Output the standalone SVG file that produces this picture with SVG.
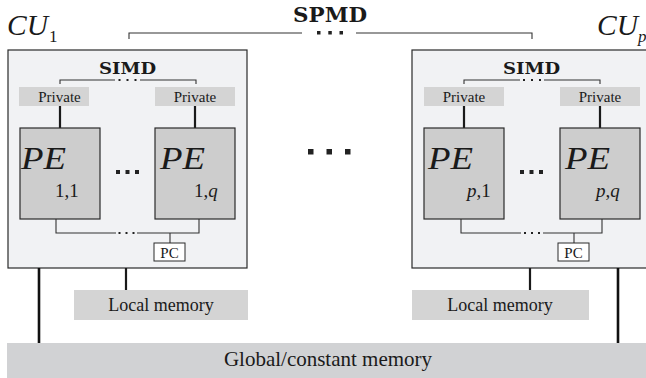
<svg xmlns="http://www.w3.org/2000/svg" width="646" height="378" viewBox="0 0 646 378">
<style>
.cu{fill:#f1f2f4;stroke:#2a2a2a;stroke-width:1.2}
.pe{fill:#cdcdcd;stroke:#2a2a2a;stroke-width:1.2}
.mem{fill:#d4d4d4}
.pcb{fill:#ffffff;stroke:#2a2a2a;stroke-width:1}
.ln{fill:none;stroke:#333;stroke-width:1.1}
.thk{fill:none;stroke:#1a1a1a;stroke-width:2.2}
.bus{fill:none;stroke:#111;stroke-width:2.6}
.dot{fill:#222}
.serif{font-family:"Liberation Serif","Times New Roman",serif;fill:#1a1a1a}
.it{font-style:italic}
.bold{font-family:"DejaVu Serif","Liberation Serif",serif;font-weight:bold;fill:#1a1a1a}
</style>

<!-- Compute units (containers) -->
<g id="cu1">
  <rect class="cu" x="8" y="50" width="239" height="218"/>
  <text class="serif it" x="7" y="35" font-size="30" textLength="41" lengthAdjust="spacingAndGlyphs">CU</text>
  <text class="serif" x="49" y="42" font-size="17">1</text>
  <text class="bold" x="127.5" y="74" font-size="16" text-anchor="middle" textLength="57" lengthAdjust="spacingAndGlyphs">SIMD</text>
</g>
<g id="cup">
  <rect class="cu" x="412" y="50" width="239" height="218"/>
  <text class="serif it" x="597" y="35" font-size="30" textLength="41" lengthAdjust="spacingAndGlyphs">CU</text>
  <text class="serif it" x="638" y="42" font-size="17">p</text>
  <text class="bold" x="531.5" y="74" font-size="16" text-anchor="middle" textLength="57" lengthAdjust="spacingAndGlyphs">SIMD</text>
</g>

<text class="bold" x="330" y="22" font-size="21" text-anchor="middle" textLength="74" lengthAdjust="spacingAndGlyphs">SPMD</text>

<!-- connectors -->
<g id="connectors">
  <!-- SPMD bracket -->
  <path class="ln" d="M129,39 V33 H302 M356,33 H532 V39"/>
  <rect class="dot" x="317" y="31" width="3.5" height="3.5"/>
  <rect class="dot" x="328.3" y="31" width="3.5" height="3.5"/>
  <rect class="dot" x="339.5" y="31" width="3.5" height="3.5"/>
  <!-- SIMD brackets -->
  <path class="ln" d="M60,84 V80 H115 M140,80 H196 V84"/>
  <rect class="dot" x="118.5" y="79" width="2" height="2"/>
  <rect class="dot" x="126.5" y="79" width="2" height="2"/>
  <rect class="dot" x="134.5" y="79" width="2" height="2"/>
  <path class="ln" d="M464,84 V80 H520 M544,80 H600 V84"/>
  <rect class="dot" x="523" y="79" width="2" height="2"/>
  <rect class="dot" x="531" y="79" width="2" height="2"/>
  <rect class="dot" x="539" y="79" width="2" height="2"/>
  <!-- private to PE -->
  <path class="thk" d="M60,106 V128 M195,106 V128 M464,106 V128 M600,106 V128"/>
  <!-- PE bottom to PC -->
  <path class="ln" d="M56,219 V233 H116 M137,233 H199 V219 M170,233 V243"/>
  <rect class="dot" x="118.5" y="232" width="2" height="2"/>
  <rect class="dot" x="125.5" y="232" width="2" height="2"/>
  <rect class="dot" x="132.5" y="232" width="2" height="2"/>
  <path class="ln" d="M461,219 V233 H521 M543,233 H602 V219 M574,233 V243"/>
  <rect class="dot" x="524" y="232" width="2" height="2"/>
  <rect class="dot" x="531" y="232" width="2" height="2"/>
  <rect class="dot" x="538" y="232" width="2" height="2"/>
  <!-- to memories -->
  <path class="thk" d="M126,268 V290 M530,268 V290"/>
  <path class="bus" d="M39,268 V343 M618,268 V343"/>
</g>

<!-- dots between PEs and between CUs -->
<rect class="dot" x="116" y="170" width="4" height="4"/>
<rect class="dot" x="125.5" y="170" width="4" height="4"/>
<rect class="dot" x="135" y="170" width="4" height="4"/>
<rect class="dot" x="520" y="170" width="4" height="4"/>
<rect class="dot" x="529.5" y="170" width="4" height="4"/>
<rect class="dot" x="539" y="170" width="4" height="4"/>
<rect class="dot" x="308" y="149" width="5.5" height="5.5"/>
<rect class="dot" x="326.5" y="149" width="5.5" height="5.5"/>
<rect class="dot" x="345" y="149" width="5.5" height="5.5"/>

<!-- private memories -->
<g id="priv11"><rect class="mem" x="19" y="87" width="70" height="19"/><text class="serif" x="59.5" y="102" font-size="15" text-anchor="middle">Private</text></g>
<g id="priv1q"><rect class="mem" x="155" y="87" width="80" height="19"/><text class="serif" x="195" y="102" font-size="15" text-anchor="middle">Private</text></g>
<g id="privp1"><rect class="mem" x="424" y="87" width="80" height="19"/><text class="serif" x="464" y="102" font-size="15" text-anchor="middle">Private</text></g>
<g id="privpq"><rect class="mem" x="560" y="87" width="80" height="19"/><text class="serif" x="600" y="102" font-size="15" text-anchor="middle">Private</text></g>

<!-- processing elements -->
<g id="pe11"><rect class="pe" x="20" y="128" width="80" height="91"/>
  <text class="serif it" x="21" y="169" font-size="31" textLength="45" lengthAdjust="spacingAndGlyphs">PE</text>
  <text class="serif" x="55" y="197" font-size="19">1,1</text></g>
<g id="pe1q"><rect class="pe" x="155" y="128" width="80" height="91"/>
  <text class="serif it" x="160" y="169" font-size="31" textLength="45" lengthAdjust="spacingAndGlyphs">PE</text>
  <text class="serif" x="194" y="197" font-size="19">1,<tspan font-style="italic">q</tspan></text></g>
<g id="pep1"><rect class="pe" x="424" y="128" width="80" height="91"/>
  <text class="serif it" x="428" y="169" font-size="31" textLength="45" lengthAdjust="spacingAndGlyphs">PE</text>
  <text class="serif" x="467" y="197" font-size="19"><tspan font-style="italic">p</tspan>,1</text></g>
<g id="pepq"><rect class="pe" x="560" y="128" width="80" height="91"/>
  <text class="serif it" x="565" y="169" font-size="31" textLength="45" lengthAdjust="spacingAndGlyphs">PE</text>
  <text class="serif" x="596" y="197" font-size="19"><tspan font-style="italic">p</tspan>,<tspan font-style="italic">q</tspan></text></g>

<!-- program counters -->
<g id="pc1"><rect class="pcb" x="154" y="243" width="31" height="18"/><text class="serif" x="169.5" y="258" font-size="15" text-anchor="middle">PC</text></g>
<g id="pcp"><rect class="pcb" x="558" y="243" width="31" height="18"/><text class="serif" x="573.5" y="258" font-size="15" text-anchor="middle">PC</text></g>

<!-- local memories -->
<g id="local1"><rect class="mem" x="74" y="290" width="174" height="30"/><text class="serif" x="161" y="311" font-size="18" text-anchor="middle">Local memory</text></g>
<g id="localp"><rect class="mem" x="412" y="290" width="177" height="30"/><text class="serif" x="500" y="311" font-size="18" text-anchor="middle">Local memory</text></g>

<!-- global memory -->
<g id="global"><rect fill="#d1d2d4" x="7" y="343" width="639" height="35"/><text class="serif" x="328" y="366" font-size="21" text-anchor="middle">Global/constant memory</text></g>
</svg>
